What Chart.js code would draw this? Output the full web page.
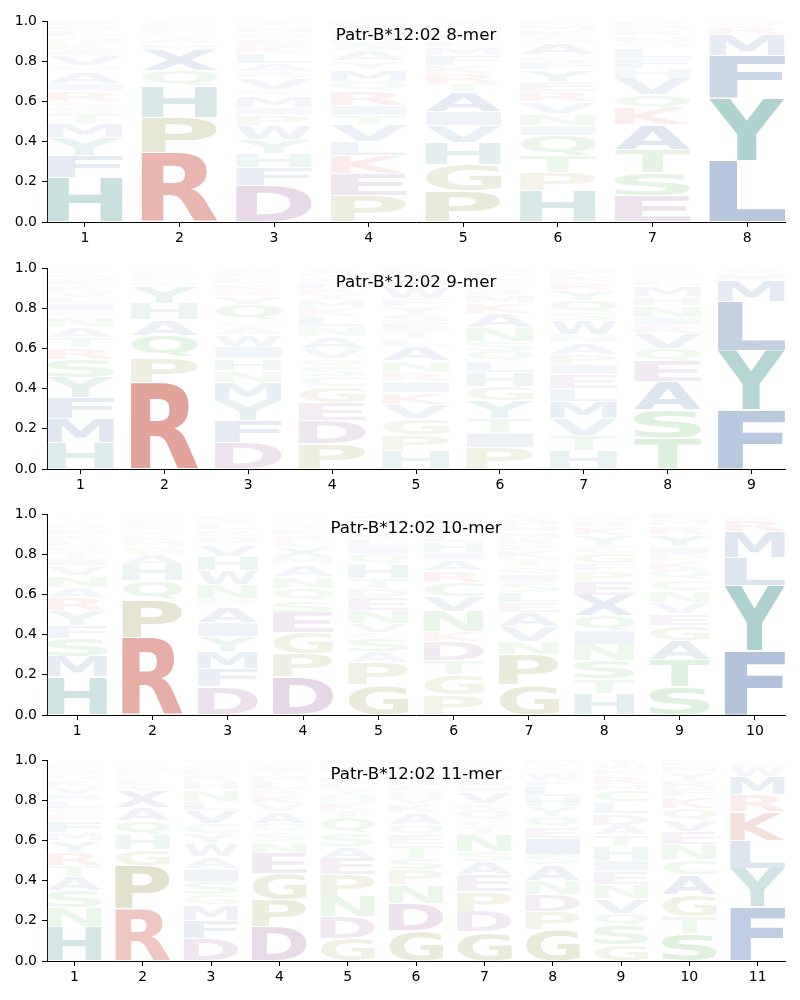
<!DOCTYPE html>
<html>
<head>
<meta charset="utf-8">
<script src="https://cdn.jsdelivr.net/npm/chart.js@4/dist/chart.umd.min.js"></script>
<style>
  body { margin: 0; background: #fff; }
  #wrap { position: relative; width: 800px; height: 1000px; }
  .panel { position: absolute; left: 0; width: 800px; height: 246px; }
</style>
</head>
<body>
<div id="wrap">
  <div class="panel" style="top:0px"><canvas id="c8"></canvas></div>
  <div class="panel" style="top:247px"><canvas id="c9"></canvas></div>
  <div class="panel" style="top:493px"><canvas id="c10"></canvas></div>
  <div class="panel" style="top:739px"><canvas id="c11"></canvas></div>
</div>
<script>
// letter stacks per position, bottom to top: [residue, probability]
const logo8 = [
  [['H',.22],['F',.11],['Y',.09],['M',.07],['T',.05],['S',.03],['G',.03],['R',.05],['I',.04],['A',.06],['Q',.03],['V',.05],['E',.03],['K',.03],['N',.03],['L',.03],['D',.02],['P',.03]],
  [['R',.345],['P',.175],['H',.155],['Q',.08],['X',.10],['M',.03],['A',.03],['K',.02],['L',.02],['E',.02],['S',.02],['F',.015]],
  [['D',.18],['F',.09],['H',.07],['Y',.07],['W',.07],['P',.05],['I',.04],['M',.06],['S',.03],['V',.06],['R',.03],['A',.04],['L',.05],['K',.04],['E',.03],['Q',.03],['N',.03],['T',.03]],
  [['P',.13],['E',.11],['K',.09],['L',.07],['V',.08],['T',.05],['I',.05],['R',.07],['Q',.05],['M',.06],['Y',.04],['A',.05],['S',.04],['D',.03],['N',.03],['G',.03],['F',.02]],
  [['P',.155],['G',.13],['H',.11],['V',.085],['I',.07],['A',.10],['T',.04],['R',.05],['K',.04],['F',.05],['M',.04],['L',.03],['S',.03],['E',.025],['N',.02],['Y',.02],['Q',.005]],
  [['H',.155],['P',.09],['T',.085],['Q',.10],['I',.05],['N',.06],['V',.06],['R',.05],['E',.05],['Y',.06],['F',.04],['C',.03],['A',.06],['S',.03],['K',.03],['M',.03],['L',.02]],
  [['E',.13],['S',.115],['T',.115],['A',.125],['K',.08],['Q',.07],['V',.08],['H',.05],['F',.05],['L',.05],['G',.03],['N',.03],['R',.03],['M',.02],['D',.02],['P',.005]],
  [['L',.305],['Y',.31],['F',.215],['M',.10],['R',.04],['W',.02],['I',.01]]
];
const logo9 = [
  [['H',.13],['M',.12],['F',.105],['Y',.10],['S',.09],['R',.06],['T',.05],['A',.05],['N',.05],['Q',.03],['I',.04],['L',.03],['V',.03],['K',.03],['E',.03],['D',.02],['P',.02],['G',.015]],
  [['R',.43],['P',.125],['Q',.11],['A',.08],['H',.08],['Y',.085],['M',.02],['F',.02],['L',.02],['K',.015],['E',.015]],
  [['D',.13],['F',.11],['Y',.10],['M',.09],['N',.06],['H',.06],['I',.06],['W',.06],['A',.04],['C',.03],['Q',.08],['V',.04],['R',.03],['K',.03],['L',.03],['E',.02],['S',.02],['G',.01]],
  [['P',.125],['D',.115],['E',.09],['G',.08],['C',.05],['S',.05],['Q',.04],['V',.05],['A',.06],['N',.05],['L',.05],['K',.04],['M',.04],['T',.03],['R',.03],['F',.03],['I',.02],['H',.02],['Y',.02],['W',.01]],
  [['H',.09],['P',.08],['G',.08],['V',.07],['K',.06],['I',.055],['R',.045],['N',.06],['A',.07],['L',.04],['T',.04],['E',.04],['S',.04],['Y',.04],['F',.04],['W',.06],['M',.03],['Q',.03],['D',.03]],
  [['P',.105],['I',.075],['T',.07],['Y',.09],['G',.07],['H',.07],['L',.055],['Q',.05],['S',.05],['N',.07],['A',.07],['K',.05],['M',.04],['R',.03],['F',.03],['E',.03],['V',.02],['D',.02],['W',.005]],
  [['H',.09],['T',.075],['V',.085],['M',.085],['L',.065],['E',.07],['I',.05],['P',.05],['A',.06],['N',.04],['W',.07],['S',.04],['Q',.06],['Y',.05],['R',.04],['K',.03],['F',.03],['D',.01]],
  [['T',.155],['S',.14],['A',.14],['E',.10],['Q',.065],['V',.075],['R',.04],['I',.04],['N',.06],['H',.045],['M',.05],['L',.03],['G',.02],['K',.02],['D',.015],['F',.005]],
  [['F',.295],['Y',.295],['L',.245],['M',.105],['I',.03],['V',.02],['W',.01]]
];
const logo10 = [
  [['H',.19],['M',.10],['S',.09],['F',.065],['Y',.075],['R',.065],['A',.05],['N',.06],['V',.045],['I',.035],['T',.035],['Q',.03],['L',.03],['K',.03],['E',.025],['D',.02],['P',.015],['G',.015],['W',.015],['C',.01]],
  [['R',.385],['P',.19],['Q',.095],['H',.08],['A',.05],['G',.04],['M',.03],['K',.025],['Y',.025],['L',.02],['F',.02],['E',.02],['S',.02]],
  [['D',.14],['F',.09],['M',.085],['Y',.075],['I',.07],['A',.08],['P',.04],['N',.07],['W',.07],['H',.07],['V',.06],['Q',.04],['R',.03],['L',.03],['S',.02],['E',.02],['G',.01]],
  [['D',.19],['P',.115],['G',.105],['E',.10],['S',.06],['Q',.06],['N',.06],['A',.06],['M',.035],['X',.05],['L',.03],['R',.03],['K',.03],['T',.02],['V',.02],['F',.015],['Y',.015],['I',.005]],
  [['G',.15],['P',.11],['A',.055],['S',.065],['C',.03],['V',.045],['N',.065],['E',.065],['D',.045],['T',.05],['H',.07],['Q',.05],['I',.04],['L',.04],['K',.03],['R',.03],['M',.03],['F',.02],['Y',.01]],
  [['P',.10],['G',.10],['T',.07],['D',.095],['K',.05],['N',.10],['V',.075],['C',.07],['R',.06],['A',.05],['I',.04],['H',.05],['L',.04],['Y',.03],['F',.02],['E',.02],['S',.02],['M',.01]],
  [['G',.15],['P',.15],['N',.065],['V',.075],['A',.07],['E',.05],['L',.05],['S',.05],['I',.04],['Q',.04],['T',.04],['K',.04],['F',.03],['R',.03],['M',.03],['H',.03],['D',.03],['Y',.02],['W',.01]],
  [['H',.107],['T',.073],['S',.09],['N',.08],['I',.07],['Q',.075],['X',.10],['E',.07],['P',.05],['F',.04],['G',.05],['C',.04],['Y',.05],['K',.04],['R',.03],['M',.02],['A',.015]],
  [['S',.14],['T',.135],['A',.095],['G',.075],['E',.06],['V',.055],['N',.06],['C',.055],['Q',.05],['K',.04],['P',.035],['I',.04],['Y',.06],['R',.04],['M',.03],['L',.03]],
  [['F',.32],['Y',.325],['L',.14],['M',.125],['R',.055],['K',.02],['W',.015]]
];
const logo11 = [
  [['H',.17],['N',.095],['S',.085],['A',.07],['T',.057],['R',.063],['Y',.06],['M',.04],['F',.06],['E',.03],['C',.03],['L',.04],['I',.03],['V',.04],['K',.03],['Q',.03],['D',.02],['P',.02],['G',.015],['W',.015]],
  [['R',.26],['P',.215],['G',.08],['H',.075],['Q',.07],['A',.065],['X',.08],['Y',.03],['L',.03],['K',.02],['E',.02],['M',.02],['S',.02],['F',.015]],
  [['D',.113],['F',.09],['M',.075],['G',.05],['S',.065],['I',.065],['A',.06],['W',.065],['Y',.05],['C',.05],['V',.065],['L',.045],['N',.06],['H',.04],['R',.03],['K',.03],['E',.02],['Q',.015],['P',.012]],
  [['D',.17],['P',.135],['G',.13],['E',.10],['N',.06],['S',.045],['Q',.045],['A',.06],['V',.04],['K',.04],['R',.03],['L',.04],['M',.03],['T',.025],['I',.02],['F',.015],['Y',.015]],
  [['G',.113],['D',.107],['N',.10],['P',.108],['E',.082],['A',.06],['S',.065],['Q',.075],['T',.04],['K',.04],['H',.035],['Y',.03],['L',.03],['R',.03],['V',.03],['M',.02],['F',.02],['I',.015]],
  [['G',.15],['D',.137],['N',.091],['P',.075],['S',.057],['T',.067],['E',.05],['Q',.05],['A',.06],['K',.04],['V',.035],['H',.03],['L',.03],['R',.03],['I',.025],['F',.02],['M',.02],['Y',.015],['C',.013],['W',.005]],
  [['G',.146],['D',.10],['P',.10],['E',.082],['A',.066],['S',.05],['N',.083],['T',.04],['C',.035],['Q',.05],['K',.03],['V',.06],['I',.03],['L',.03],['H',.02],['R',.02],['M',.02],['Y',.015],['F',.013],['W',.01]],
  [['G',.154],['P',.091],['D',.085],['N',.07],['A',.078],['S',.049],['I',.083],['E',.058],['Q',.052],['Y',.05],['H',.05],['L',.05],['F',.03],['W',.04],['R',.02],['K',.02],['M',.02]],
  [['G',.08],['S',.10],['Q',.057],['V',.073],['N',.068],['E',.066],['I',.056],['H',.068],['T',.059],['A',.049],['D',.058],['L',.056],['C',.06],['M',.03],['R',.04],['K',.03],['W',.03],['Y',.02]],
  [['S',.138],['T',.082],['G',.108],['A',.10],['C',.074],['N',.075],['E',.066],['V',.057],['Q',.06],['K',.058],['F',.04],['R',.04],['Y',.04],['M',.03],['L',.02],['H',.012]],
  [['F',.27],['Y',.19],['L',.14],['K',.143],['R',.083],['M',.091],['W',.048],['I',.02],['V',.015]]
];
const titles = ['Patr-B*12:02 8-mer', 'Patr-B*12:02 9-mer', 'Patr-B*12:02 10-mer', 'Patr-B*12:02 11-mer'];
const yTicks = [0, 0.2, 0.4, 0.6, 0.8, 1.0];

// residue colour groups
const groupColor = {
  red: [210, 112, 100],
  blue: [95, 130, 180],
  teal: [87, 160, 155],
  olive: [165, 165, 95],
  purple: [165, 115, 165],
  green: [105, 190, 105]
};
const residueGroup = {
  R: 'red', K: 'red',
  A: 'blue', V: 'blue', L: 'blue', I: 'blue', M: 'blue', F: 'blue', W: 'blue', X: 'blue',
  H: 'teal', Y: 'teal',
  P: 'olive', G: 'olive',
  D: 'purple', E: 'purple',
  S: 'green', T: 'green', N: 'green', Q: 'green', C: 'green'
};

function glyphColor(ch, h) {
  const c = groupColor[residueGroup[ch]];
  const a = Math.min(0.9, h * 1.5);
  return `rgba(${c[0]},${c[1]},${c[2]},${a})`;
}

// stretch each letter over its bar element
const logoGlyphs = {
  id: 'logoGlyphs',
  afterDatasetsDraw(chart) {
    const ctx = chart.ctx;
    const area = chart.chartArea;
    const ds = chart.data.datasets[0];
    const meta = chart.getDatasetMeta(0);
    ctx.save();
    ctx.beginPath();
    ctx.rect(area.left, area.top, area.right - area.left, area.bottom - area.top);
    ctx.clip();
    ctx.font = 'bold 100px "DejaVu Sans"';
    ctx.textAlign = 'left';
    ctx.textBaseline = 'alphabetic';
    meta.data.forEach((bar, i) => {
      const p = bar.getProps(['x', 'y', 'base', 'width'], true);
      const ch = ds.letters[i];
      const raw = ds.data[i].y;
      const h = raw[1] - raw[0];
      let top = Math.min(p.y, p.base);
      let bot = Math.max(p.y, p.base);
      if (bot - top > 3) { top += 0.6; bot -= 0.6; }
      const x0 = p.x - p.width / 2;
      const m = ctx.measureText(ch);
      const gw = m.actualBoundingBoxLeft + m.actualBoundingBoxRight;
      const gh = m.actualBoundingBoxAscent + m.actualBoundingBoxDescent;
      ctx.save();
      ctx.translate(x0, top);
      ctx.scale(p.width / gw, (bot - top) / gh);
      ctx.fillStyle = glyphColor(ch, h);
      ctx.fillText(ch, m.actualBoundingBoxLeft, m.actualBoundingBoxAscent);
      ctx.restore();
    });
    ctx.restore();
  }
};

const logoTitle = {
  id: 'logoTitle',
  afterDraw(chart, args, opts) {
    const ctx = chart.ctx;
    const area = chart.chartArea;
    ctx.save();
    ctx.font = '16.7px "DejaVu Sans"';
    ctx.fillStyle = '#000';
    ctx.textAlign = 'center';
    ctx.textBaseline = 'middle';
    ctx.fillText(opts.text, (area.left + area.right) / 2, area.top + 15);
    ctx.restore();
  }
};

function makeLogo(canvasId, logo, title) {
  const data = [];
  const letters = [];
  logo.forEach((stack, k) => {
    let lo = 0;
    stack.forEach(([ch, h]) => {
      data.push({ x: k + 1, y: [lo, lo + h] });
      letters.push(ch);
      lo += h;
    });
  });
  const n = logo.length;
  return new Chart(document.getElementById(canvasId), {
    type: 'bar',
    data: {
      datasets: [{
        data,
        letters,
        backgroundColor: 'rgba(0,0,0,0)',
        borderWidth: 0,
        categoryPercentage: 1.0,
        barPercentage: 0.8
      }]
    },
    options: {
      responsive: true,
      maintainAspectRatio: false,
      animation: false,
      layout: { padding: { top: 21, right: 15, left: 0, bottom: 0 } },
      plugins: {
        legend: { display: false },
        tooltip: { enabled: false },
        logoTitle: { text: title }
      },
      scales: {
        x: {
          type: 'linear',
          offset: false,
          min: 0.6,
          max: n + 0.4,
          afterBuildTicks: (s) => { s.ticks = s.ticks.filter(t => Number.isInteger(t.value)); },
          afterFit: (s) => { s.height = 24; },
          ticks: { stepSize: 1, includeBounds: false, color: '#000', padding: 3, maxRotation: 0, autoSkip: false, font: { family: 'DejaVu Sans', size: 14 } },
          grid: { offset: false, drawOnChartArea: false, drawTicks: true, tickLength: 5, color: '#000' },
          border: { display: true, color: '#000', width: 1 }
        },
        y: {
          type: 'linear',
          min: 0,
          max: 1,
          afterFit: (s) => { s.width = 47; },
          afterBuildTicks: (s) => { s.ticks = yTicks.map(v => ({ value: v })); },
          ticks: { color: '#000', padding: 5, callback: (v) => Number(v).toFixed(1), font: { family: 'DejaVu Sans', size: 14 } },
          grid: { drawOnChartArea: false, drawTicks: true, tickLength: 5, color: '#000' },
          border: { display: true, color: '#000', width: 1 }
        }
      }
    },
    plugins: [logoGlyphs, logoTitle]
  });
}

makeLogo('c8', logo8, titles[0]);
makeLogo('c9', logo9, titles[1]);
makeLogo('c10', logo10, titles[2]);
makeLogo('c11', logo11, titles[3]);
</script>
</body>
</html>
